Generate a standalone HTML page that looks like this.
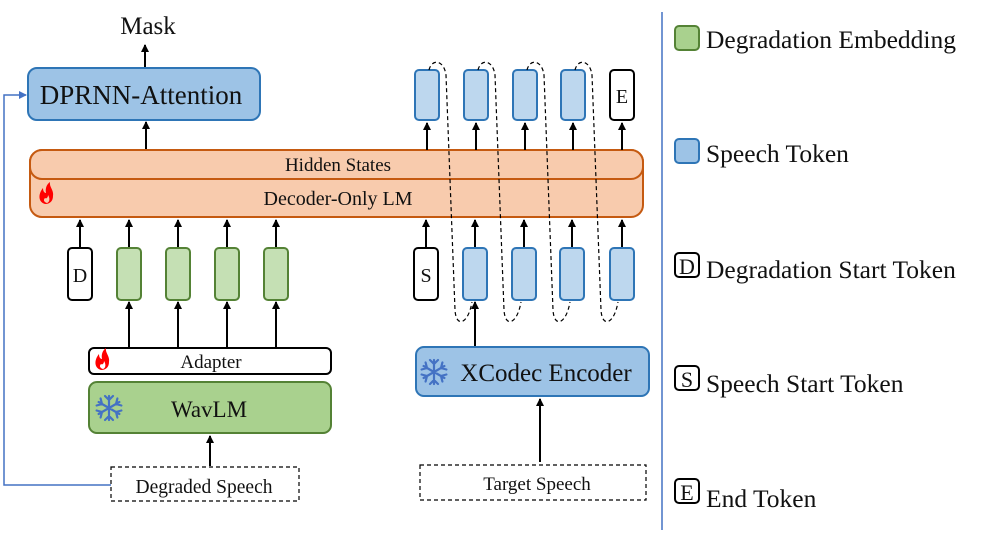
<!DOCTYPE html>
<html><head><meta charset="utf-8"><style>body{margin:0;background:#fff}svg{display:block}text{font-family:"Liberation Serif",serif;fill:#111}</style></head><body>
<svg width="996" height="534" viewBox="0 0 996 534" xmlns="http://www.w3.org/2000/svg">
<defs>
<marker id="a" markerWidth="8" markerHeight="8" refX="7" refY="4" orient="auto" markerUnits="userSpaceOnUse"><path d="M0,0 L8,4 L0,8 z" fill="#000"/></marker>
<marker id="b" markerWidth="8" markerHeight="8" refX="7" refY="4" orient="auto" markerUnits="userSpaceOnUse"><path d="M0,0 L8,4 L0,8 z" fill="#4472c4"/></marker>
<g id="flame"><path d="M0,14 C-7,12 -7,4 -2,-2 C-2,2 0,3 1,3 C0,-2 2,-6 5,-8 C4,-3 9,0 8,6 C8,11 5,14 0,14 Z M2,13 C5,12 5,8 3,5 C3,8 1,9 0,8 C-2,10 -1,12 2,13Z" fill="#f00" fill-rule="evenodd"/></g>
<g id="snow" stroke="#4472c4" stroke-width="2.2" fill="none" stroke-linecap="round"><path d="M0,-12V12M-10.4,-6L10.4,6M-10.4,6L10.4,-6M-4,-12L0,-8L4,-12M-4,12L0,8L4,12M-12.4,-2.5L-7,-4L-8.4,-9.5M12.4,2.5L7,4L8.4,9.5M-12.4,2.5L-7,4L-8.4,9.5M12.4,-2.5L7,-4L8.4,-9.5"/></g>
</defs>
<text x="148" y="34" font-size="25" text-anchor="middle">Mask</text>
<line x1="145" y1="68" x2="145" y2="45" stroke="#000" stroke-width="2" marker-end="url(#a)"/>
<rect x="28" y="68" width="232" height="52" rx="9" fill="#9dc3e6" stroke="#2e75b6" stroke-width="2"/>
<text x="141" y="104" font-size="27" text-anchor="middle">DPRNN-Attention</text>
<line x1="146" y1="150" x2="146" y2="122" stroke="#000" stroke-width="2" marker-end="url(#a)"/>
<polyline points="111,485 4,485 4,95 26,95" fill="none" stroke="#4472c4" stroke-width="1.5" marker-end="url(#b)"/>
<rect x="30" y="150" width="613" height="67" rx="12" fill="#f8cbad" stroke="#c55a11" stroke-width="2"/>
<rect x="30" y="150" width="613" height="29" rx="12" fill="#f8cbad" stroke="#c55a11" stroke-width="2"/>
<text x="338" y="171" font-size="19" text-anchor="middle">Hidden States</text>
<text x="338" y="205" font-size="20" text-anchor="middle">Decoder-Only LM</text>
<use href="#flame" x="45" y="190"/>
<g stroke-width="2">
<rect x="68" y="248" width="24" height="52" rx="4" fill="#fff" stroke="#000"/>
<rect x="117" y="248" width="24" height="52" rx="4" fill="#c5e0b4" stroke="#548235"/>
<rect x="166" y="248" width="24" height="52" rx="4" fill="#c5e0b4" stroke="#548235"/>
<rect x="215" y="248" width="24" height="52" rx="4" fill="#c5e0b4" stroke="#548235"/>
<rect x="264" y="248" width="24" height="52" rx="4" fill="#c5e0b4" stroke="#548235"/>
<rect x="414" y="248" width="24" height="52" rx="4" fill="#fff" stroke="#000"/>
<rect x="463" y="248" width="24" height="52" rx="4" fill="#bdd7ee" stroke="#2e75b6"/>
<rect x="512" y="248" width="24" height="52" rx="4" fill="#bdd7ee" stroke="#2e75b6"/>
<rect x="560" y="248" width="24" height="52" rx="4" fill="#bdd7ee" stroke="#2e75b6"/>
<rect x="610" y="248" width="24" height="52" rx="4" fill="#bdd7ee" stroke="#2e75b6"/>
<rect x="415" y="70" width="24" height="50" rx="4" fill="#bdd7ee" stroke="#2e75b6"/>
<rect x="464" y="70" width="24" height="50" rx="4" fill="#bdd7ee" stroke="#2e75b6"/>
<rect x="513" y="70" width="24" height="50" rx="4" fill="#bdd7ee" stroke="#2e75b6"/>
<rect x="561" y="70" width="24" height="50" rx="4" fill="#bdd7ee" stroke="#2e75b6"/>
<rect x="610" y="70" width="24" height="50" rx="4" fill="#fff" stroke="#000"/>
</g>
<text x="80" y="282" font-size="20" text-anchor="middle">D</text>
<text x="426" y="282" font-size="20" text-anchor="middle">S</text>
<text x="622" y="103" font-size="20" text-anchor="middle">E</text>
<g stroke="#000" stroke-width="2">
<line x1="80" y1="247" x2="80" y2="220" marker-end="url(#a)"/>
<line x1="129" y1="247" x2="129" y2="220" marker-end="url(#a)"/>
<line x1="178" y1="247" x2="178" y2="220" marker-end="url(#a)"/>
<line x1="227" y1="247" x2="227" y2="220" marker-end="url(#a)"/>
<line x1="276" y1="247" x2="276" y2="220" marker-end="url(#a)"/>
<line x1="426" y1="247" x2="426" y2="220" marker-end="url(#a)"/>
<line x1="475" y1="247" x2="475" y2="220" marker-end="url(#a)"/>
<line x1="524" y1="247" x2="524" y2="220" marker-end="url(#a)"/>
<line x1="572" y1="247" x2="572" y2="220" marker-end="url(#a)"/>
<line x1="622" y1="247" x2="622" y2="220" marker-end="url(#a)"/>
<line x1="427" y1="150" x2="427" y2="123" marker-end="url(#a)"/>
<line x1="476" y1="150" x2="476" y2="123" marker-end="url(#a)"/>
<line x1="525" y1="150" x2="525" y2="123" marker-end="url(#a)"/>
<line x1="573" y1="150" x2="573" y2="123" marker-end="url(#a)"/>
<line x1="622" y1="150" x2="622" y2="123" marker-end="url(#a)"/>
<line x1="129" y1="347" x2="129" y2="302" marker-end="url(#a)"/>
<line x1="178" y1="347" x2="178" y2="302" marker-end="url(#a)"/>
<line x1="227" y1="347" x2="227" y2="302" marker-end="url(#a)"/>
<line x1="276" y1="347" x2="276" y2="302" marker-end="url(#a)"/>
<line x1="475" y1="346" x2="475" y2="302" marker-end="url(#a)"/>
<line x1="210" y1="466" x2="210" y2="436" marker-end="url(#a)"/>
<line x1="540" y1="462" x2="540" y2="399" marker-end="url(#a)"/>
</g>
<g fill="none" stroke="#000" stroke-width="1.2" stroke-dasharray="4,3">
<path d="M429,70 C432,58 444,60 446,75 L455,310 C456,328 468,325 472,302"/>
<path d="M478,70 C481,58 493,60 495,75 L504,310 C505,328 517,325 521,302"/>
<path d="M527,70 C530,58 542,60 544,75 L553,310 C554,328 566,325 570,302"/>
<path d="M575,70 C578,58 590,60 592,75 L601,310 C602,328 614,325 618,302"/>
</g>
<rect x="89" y="348" width="242" height="26" rx="5" fill="#fff" stroke="#000" stroke-width="2"/>
<text x="211" y="368" font-size="19" text-anchor="middle">Adapter</text>
<use href="#flame" x="101" y="356"/>
<rect x="89" y="382" width="242" height="51" rx="8" fill="#a9d18e" stroke="#548235" stroke-width="2"/>
<text x="209" y="417" font-size="23" text-anchor="middle">WavLM</text>
<use href="#snow" x="109" y="408"/>
<rect x="416" y="347" width="233" height="49" rx="8" fill="#9dc3e6" stroke="#2e75b6" stroke-width="2"/>
<text x="546" y="381" font-size="25" text-anchor="middle">XCodec Encoder</text>
<use href="#snow" x="434" y="372"/>
<rect x="111" y="467" width="188" height="34" fill="#fff" stroke="#000" stroke-width="1.2" stroke-dasharray="4,3"/>
<text x="204" y="493" font-size="19.5" text-anchor="middle">Degraded Speech</text>
<rect x="420" y="465" width="226" height="35" fill="#fff" stroke="#000" stroke-width="1.2" stroke-dasharray="4,3"/>
<text x="537" y="490" font-size="19" text-anchor="middle">Target Speech</text>
<line x1="662" y1="12" x2="662" y2="530" stroke="#4472c4" stroke-width="1.5"/>
<g stroke-width="2">
<rect x="675" y="26" width="24" height="24" rx="4" fill="#a9d18e" stroke="#548235"/>
<rect x="675" y="139" width="24" height="24" rx="4" fill="#9dc3e6" stroke="#2e75b6"/>
<rect x="675" y="253" width="24" height="24" rx="4" fill="#fff" stroke="#000"/>
<rect x="675" y="366" width="24" height="24" rx="4" fill="#fff" stroke="#000"/>
<rect x="675" y="479" width="24" height="24" rx="4" fill="#fff" stroke="#000"/>
</g>
<g font-size="25.5">
<text x="706" y="48">Degradation Embedding</text>
<text x="706" y="162">Speech Token</text>
<text x="706" y="278">Degradation Start Token</text>
<text x="706" y="392">Speech Start Token</text>
<text x="706" y="507">End Token</text>
</g>
<g font-size="22">
<text x="687" y="274" text-anchor="middle">D</text>
<text x="687" y="387" text-anchor="middle">S</text>
<text x="687" y="500" text-anchor="middle">E</text>
</g>
</svg>
</body></html>
